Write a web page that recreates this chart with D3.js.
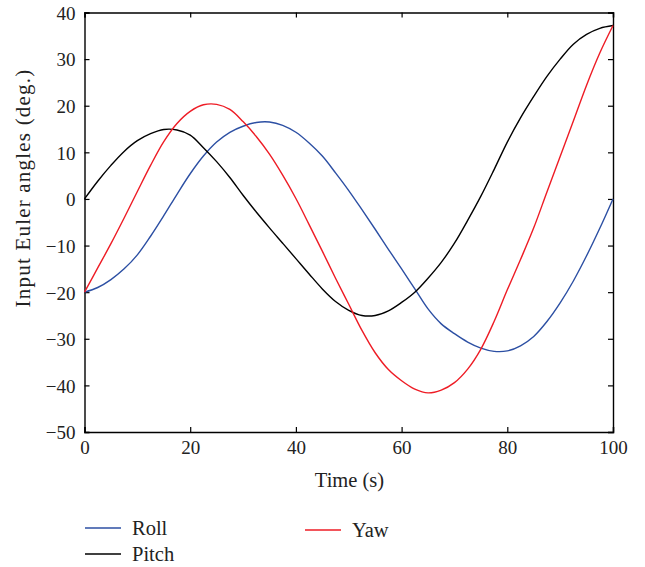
<!DOCTYPE html>
<html lang="en">
<head>
    <meta charset="UTF-8">
    <title>Input Euler angles</title>
    <script src="https://d3js.org/d3.v7.min.js"></script>
    <style>
        body, html {
            margin: 0;
            background-color: #fff;
            overflow: hidden;
        }
        svg text {
            font-family: 'Liberation Serif', 'DejaVu Serif', serif;
            fill: #222;
        }
    </style>
</head>
<body>
<svg id="chart" width="645" height="567"></svg>

<script>
    // time axis (s), every 2.5 s
    const time = [0, 2.5, 5, 7.5, 10, 12.5, 15, 17.5, 20, 22.5, 25, 27.5, 30, 32.5, 35, 37.5, 40,
        42.5, 45, 47.5, 50, 52.5, 55, 57.5, 60, 62.5, 65, 67.5, 70, 72.5, 75, 77.5, 80,
        82.5, 85, 87.5, 90, 92.5, 95, 97.5, 100];

    const roll = [-20, -19.0, -17.3, -15.0, -12.0, -8.0, -3.6, 1.0, 5.4, 9.2, 12.2, 14.3, 15.6, 16.4, 16.5, 15.8, 14.3,
        12.0, 9.2, 5.6, 1.8, -2.3, -6.5, -10.8, -15.0, -19.3, -23.6, -26.8, -28.9, -30.7, -32.0, -32.7, -32.6,
        -31.5, -29.5, -26.3, -22.3, -17.6, -12.2, -6.3, 0];

    const pitch = [0, 3.8, 7.2, 10.2, 12.5, 14.0, 14.9, 14.8, 13.7, 11.0, 8.0, 4.6, 0.8, -2.8, -6.2, -9.5, -12.8,
        -16.1, -19.3, -22.0, -23.9, -25.0, -25.0, -24.0, -22.2, -20.0, -17.0, -13.6, -9.5, -4.6, 0.6, 6.3, 12.2,
        17.4, 22.0, 26.3, 30.0, 33.2, 35.3, 36.6, 37.2];

    const yaw = [-20, -14.8, -9.6, -4.1, 1.6, 7.2, 12.3, 16.2, 18.8, 20.2, 20.3, 19.2, 16.6, 13.4, 9.6, 5.1, 0.1,
        -5.5, -11.2, -17.0, -22.6, -28.2, -33.0, -36.6, -39.0, -40.8, -41.6, -41.0, -39.4, -36.5, -32.2, -26.3, -19.5,
        -13.0, -6.2, 1.5, 9.1, 16.7, 24.4, 31.3, 37.2];

    const xTicks = [0, 20, 40, 60, 80, 100];
    const yTicks = [-50, -40, -30, -20, -10, 0, 10, 20, 30, 40];

    const seriesNames = ['Roll', 'Pitch', 'Yaw'];
    const seriesColors = ['#2c4fa3', '#000000', '#ee1c25'];
    const seriesValues = [roll, pitch, yaw];

    const svg = d3.select('#chart');
    const m = { left: 84.5, right: 613, top: 12.5, bottom: 432 };

    const x = d3.scaleLinear().domain([0, 100]).range([m.left, m.right]);
    const y = d3.scaleLinear().domain([-50, 40]).range([m.bottom, m.top]);

    // frame with inward ticks on all sides
    svg.append('g').attr('class', 'xaxis')
        .attr('transform', `translate(0,${m.bottom})`)
        .call(d3.axisBottom(x).tickValues(xTicks).tickSize(-5).tickPadding(9));
    svg.append('g').attr('class', 'yaxis')
        .attr('transform', `translate(${m.left},0)`)
        .call(d3.axisLeft(y).tickValues(yTicks).tickSize(-5).tickPadding(9));
    svg.append('g')
        .attr('transform', `translate(0,${m.top})`)
        .call(d3.axisTop(x).tickValues(xTicks).tickSize(-5).tickFormat(''));
    svg.append('g')
        .attr('transform', `translate(${m.right},0)`)
        .call(d3.axisRight(y).tickValues(yTicks).tickSize(-5).tickFormat(''));

    svg.selectAll('.domain').attr('stroke', '#000').attr('stroke-width', 1.4);
    svg.selectAll('.tick line').attr('stroke', '#000').attr('stroke-width', 1.2);
    svg.selectAll('.tick text')
        .style('font-family', "'Liberation Serif', serif")
        .style('font-size', '19px')
        .attr('fill', '#222');
    svg.selectAll('.yaxis .tick text').attr('dy', '0.36em');

    // curves
    const line = d3.line()
        .x((d, i) => x(time[i]))
        .y(d => y(d))
        .curve(d3.curveCatmullRom.alpha(0.5));

    const plot = svg.append('g');
    seriesValues.forEach((vals, k) => {
        plot.append('path')
            .datum(vals)
            .attr('fill', 'none')
            .attr('stroke', seriesColors[k])
            .attr('stroke-width', 1.4)
            .attr('d', line);
    });

    // axis titles
    svg.append('text')
        .attr('x', 349.5)
        .attr('y', 487)
        .attr('text-anchor', 'middle')
        .style('font-size', '20.5px')
        .text('Time (s)');

    svg.append('text')
        .attr('transform', 'translate(30,188) rotate(-90)')
        .attr('text-anchor', 'middle')
        .style('font-size', '21px')
        .style('letter-spacing', '1.2px')
        .text('Input Euler angles (deg.)');

    // legend
    const legendPos = [[85, 528], [85, 554], [305, 530]];
    seriesNames.forEach((name, k) => {
        const [lx, ly] = legendPos[k];
        svg.append('line')
            .attr('x1', lx).attr('x2', lx + 36)
            .attr('y1', ly).attr('y2', ly)
            .attr('stroke', seriesColors[k])
            .attr('stroke-width', 1.4);
        svg.append('text')
            .attr('x', lx + 47)
            .attr('y', ly + 7)
            .style('font-size', '20.5px')
            .text(name);
    });
</script>
</body>
</html>
